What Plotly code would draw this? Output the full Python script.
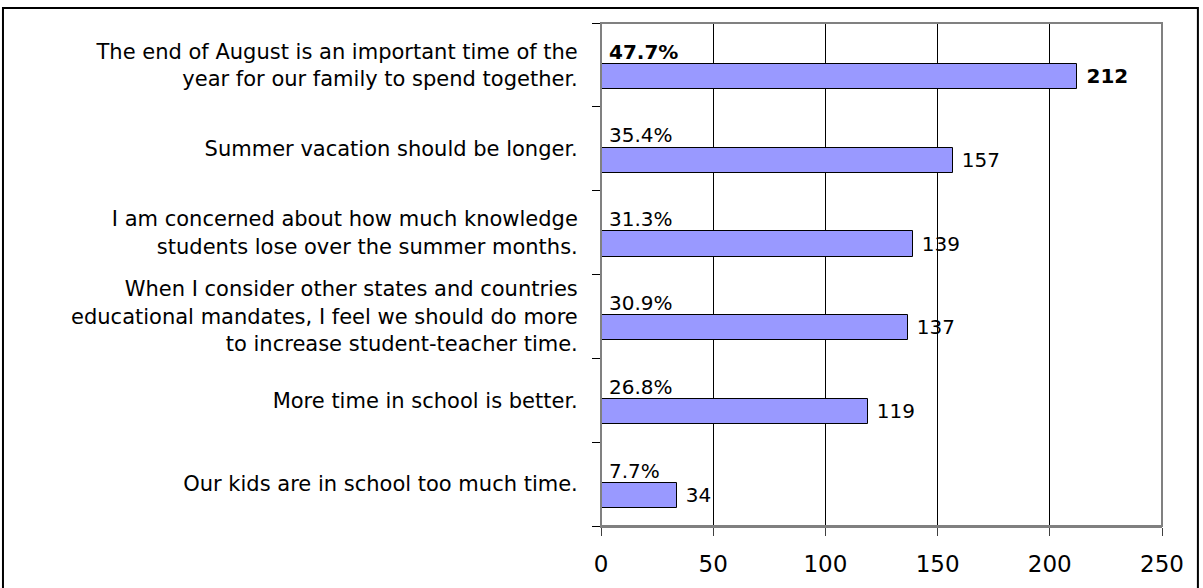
import plotly.graph_objects as go

categories = [
    "The end of August is an important time of the<br>year for our family to spend together.",
    "Summer vacation should be longer.",
    "I am concerned about how much knowledge<br>students lose over the summer months.",
    "When I consider other states and countries<br>educational mandates, I feel we should do more<br>to increase student-teacher time.",
    "More time in school is better.",
    "Our kids are in school too much time.",
]
counts = [212, 157, 139, 137, 119, 34]
percents = ["47.7%", "35.4%", "31.3%", "30.9%", "26.8%", "7.7%"]
x_ticks = [0, 50, 100, 150, 200, 250]

FONT = "DejaVu Sans, Liberation Sans, Arial, sans-serif"
pos = list(range(len(categories)))
bar_pos = [p + 0.137 for p in pos]
value_text = ["<b> %d</b>" % c if i == 0 else " %d" % c for i, c in enumerate(counts)]

fig = go.Figure()
fig.add_trace(go.Bar(
    x=counts, y=bar_pos, orientation="h", width=0.30,
    marker=dict(color="#9999FF", line=dict(color="black", width=1)),
    text=value_text, textposition="outside",
    textfont=dict(family=FONT, size=20, color="black"),
    cliponaxis=False, hoverinfo="skip",
))

for i, p in enumerate(percents):
    label = "<b>%s</b>" % p if i == 0 else p
    fig.add_annotation(x=0, y=pos[i] - 0.16, xref="x", yref="y", text=label,
                       showarrow=False, xanchor="left", yanchor="middle", xshift=6,
                       font=dict(family=FONT, size=20, color="black"))

# plot area border (gray) and outer frame (black)
fig.add_shape(type="rect", xref="paper", yref="paper", x0=0, y0=0, x1=1, y1=1,
              line=dict(color="#808080", width=2), layer="above")
fig.add_shape(type="rect", xref="paper", yref="paper", x0=-1.066, y0=-0.2, x1=1.064, y1=1.0298,
              line=dict(color="black", width=2))

fig.update_layout(
    width=1203, height=588,
    margin=dict(l=601, r=41, t=23, b=62),
    paper_bgcolor="white", plot_bgcolor="white",
    showlegend=False, bargap=0,
    font=dict(family=FONT, color="black"),
)
fig.update_xaxes(
    range=[0, 250], tickvals=x_ticks, showgrid=True, gridcolor="black", gridwidth=1,
    showline=True, linecolor="#808080", linewidth=2,
    ticks="outside", ticklen=8, tickcolor="#404040", tickwidth=1,
    tickfont=dict(family=FONT, size=23, color="black"), ticklabelstandoff=8,
    zeroline=False, fixedrange=True,
)
fig.update_yaxes(
    range=[5.5, -0.5], tickvals=pos, ticktext=categories, ticks="",
    showgrid=False, zeroline=False, showline=True, linecolor="black", linewidth=1,
    tickfont=dict(family=FONT, size=21, color="black"), ticklabelstandoff=18,
    minor=dict(tickvals=[-0.5, 0.5, 1.5, 2.5, 3.5, 4.5, 5.5], ticks="outside",
               ticklen=8, tickcolor="black", tickwidth=1, showgrid=False),
    fixedrange=True,
)

fig.write_html("out.html", config={"displayModeBar": False},
               post_script="document.body.style.margin='0';document.body.style.overflow='hidden';")
